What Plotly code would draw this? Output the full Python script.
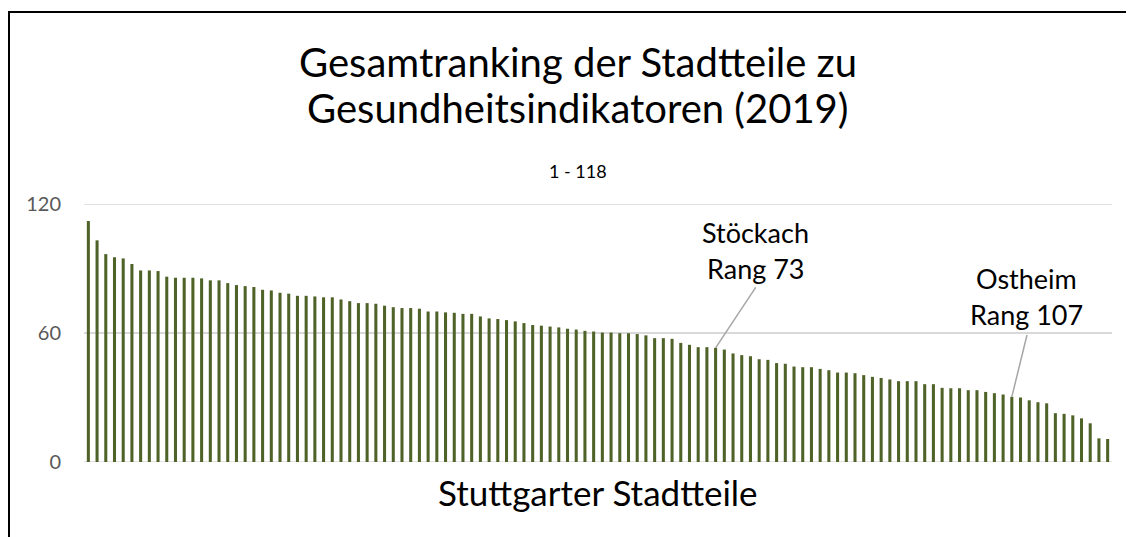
import plotly.graph_objects as go

# Data: rank values of 118 Stuttgart districts (sorted descending)
ranks = list(range(1, 119))
values = [
    112.1, 103.1, 96.7, 95.2, 94.7, 92.1, 89.1, 89.1, 88.8, 86.2,
    85.7, 85.7, 85.7, 85.4, 84.5, 84.5, 83.2, 82.3, 81.8, 81.4,
    80.1, 79.8, 78.7, 78.3, 77.3, 77.3, 77.0, 76.6, 76.6, 75.6,
    74.8, 73.9, 73.9, 73.6, 72.7, 72.0, 71.6, 71.6, 71.3, 70.0,
    70.0, 69.6, 69.4, 68.9, 68.9, 67.7, 66.8, 66.5, 66.0, 65.4,
    64.6, 63.7, 63.4, 63.0, 62.6, 62.0, 61.6, 61.0, 60.7, 60.2,
    60.2, 59.9, 59.9, 59.5, 58.9, 57.6, 57.6, 57.3, 55.4, 54.5,
    53.4, 53.4, 53.1, 52.3, 50.5, 49.7, 49.2, 47.8, 47.5, 46.0,
    45.7, 44.4, 44.1, 44.1, 43.3, 42.7, 41.6, 41.6, 41.3, 40.4,
    39.6, 39.1, 38.4, 37.6, 37.6, 37.6, 36.2, 36.2, 34.5, 34.3,
    34.3, 33.4, 33.4, 32.6, 32.0, 31.4, 30.3, 30.0, 28.7, 27.8,
    27.3, 22.7, 22.4, 21.7, 20.3, 18.0, 11.0, 10.7,
]
y_ticks = [0, 60, 120]

title_line1 = "Gesamtranking der Stadtteile zu"
title_line2 = "Gesundheitsindikatoren (2019)"
subtitle = "1 - 118"
x_title = "Stuttgarter Stadtteile"

callouts = [
    {"rank": 73, "name": "Stöckach"},
    {"rank": 107, "name": "Ostheim"},
]

FONT = "Lato"
BAR_COLOR = "#4F6228"
GRID = "#D9D9D9"

# page offset of the figure (default body margin) and target screen geometry
OFF = 8
W, H = 1134, 537
plot_left, plot_right, plot_top, plot_bottom = 84, 1112, 204, 462  # screen px
L = plot_left - OFF
T = plot_top - OFF
R = W - (plot_right - OFF)
B = H - (plot_bottom - OFF)
pw, ph = plot_right - plot_left, plot_bottom - plot_top


def sx(px):  # screen x -> paper
    return (px - plot_left) / pw


def sy(py):  # screen y -> paper
    return (plot_bottom - py) / ph


fig = go.Figure()
fig.add_trace(go.Bar(x=ranks, y=values, marker=dict(color=BAR_COLOR, line=dict(width=0)),
                     hoverinfo="x+y"))

annotations = [
    dict(text=title_line1, x=sx(578), y=sy(62), xref="paper", yref="paper",
         showarrow=False, xanchor="center", yanchor="middle", font=dict(family=FONT, size=40, color="#000000")),
    dict(text=title_line2, x=sx(578), y=sy(108), xref="paper", yref="paper",
         showarrow=False, xanchor="center", yanchor="middle", font=dict(family=FONT, size=40, color="#000000")),
    dict(text=subtitle, x=sx(578), y=sy(171), xref="paper", yref="paper",
         showarrow=False, xanchor="center", yanchor="middle", font=dict(family=FONT, size=18, color="#000000")),
    dict(text=x_title, x=0.5, y=sy(492), xref="paper", yref="paper",
         showarrow=False, xanchor="center", yanchor="middle", font=dict(family=FONT, size=35, color="#000000")),
]

# callout label positions (screen px): centre x, line1 y, line2 y, leader top x, leader top y
label_pos = {73: (755, 232, 268, 755.7, 287.3), 107: (1026, 278, 314, 1027, 335)}
bw = pw / len(ranks)
shapes = [
    dict(type="line", xref="paper", yref="y", x0=0, x1=1, y0=v, y1=v, layer="below",
         line=dict(color=GRID, width=1.5)) for v in (0, 120)
]
for c in callouts:
    r = c["rank"]
    cx, y1, y2, lx, ly = label_pos[r]
    annotations.append(dict(text=c["name"], x=sx(cx), y=sy(y1), xref="paper", yref="paper",
                            showarrow=False, xanchor="center", yanchor="middle",
                            font=dict(family=FONT, size=27, color="#000000")))
    annotations.append(dict(text=f"Rang {r}", x=sx(cx), y=sy(y2), xref="paper", yref="paper",
                            showarrow=False, xanchor="center", yanchor="middle",
                            font=dict(family=FONT, size=27, color="#000000")))
    shapes.append(dict(type="line", xref="x", yref="y", x0=r, y0=values[r - 1],
                       x1=r + (lx - (plot_left + (r - 0.5) * bw)) / bw,
                       y1=(plot_bottom - ly) / ph * 120,
                       line=dict(color="#A6A6A6", width=1.5)))

# outer frame (top and left edges visible)
shapes.append(dict(type="line", xref="paper", yref="paper", x0=sx(OFF), x1=sx(1160),
                   y0=sy(12), y1=sy(12), line=dict(color="#000000", width=2)))
shapes.append(dict(type="line", xref="paper", yref="paper", x0=sx(OFF + 1), x1=sx(OFF + 1),
                   y0=sy(12), y1=sy(560), line=dict(color="#000000", width=2)))

fig.update_layout(
    width=W, height=H,
    margin=dict(l=L, r=R, t=T, b=B, autoexpand=False),
    paper_bgcolor="white", plot_bgcolor="white",
    showlegend=False,
    bargap=0.65,
    annotations=annotations,
    shapes=shapes,
    xaxis=dict(range=[0.5, 118.5], showticklabels=False, showgrid=False, zeroline=False,
               showline=False, ticks=""),
    yaxis=dict(range=[0, 120], tickvals=y_ticks, showgrid=True, gridcolor=GRID, gridwidth=1.5,
               zeroline=False, showline=False,
               ticks="", ticklabelstandoff=22,
               tickfont=dict(family=FONT, size=20, color="#595959")),
)

fig.write_html("out.html")
